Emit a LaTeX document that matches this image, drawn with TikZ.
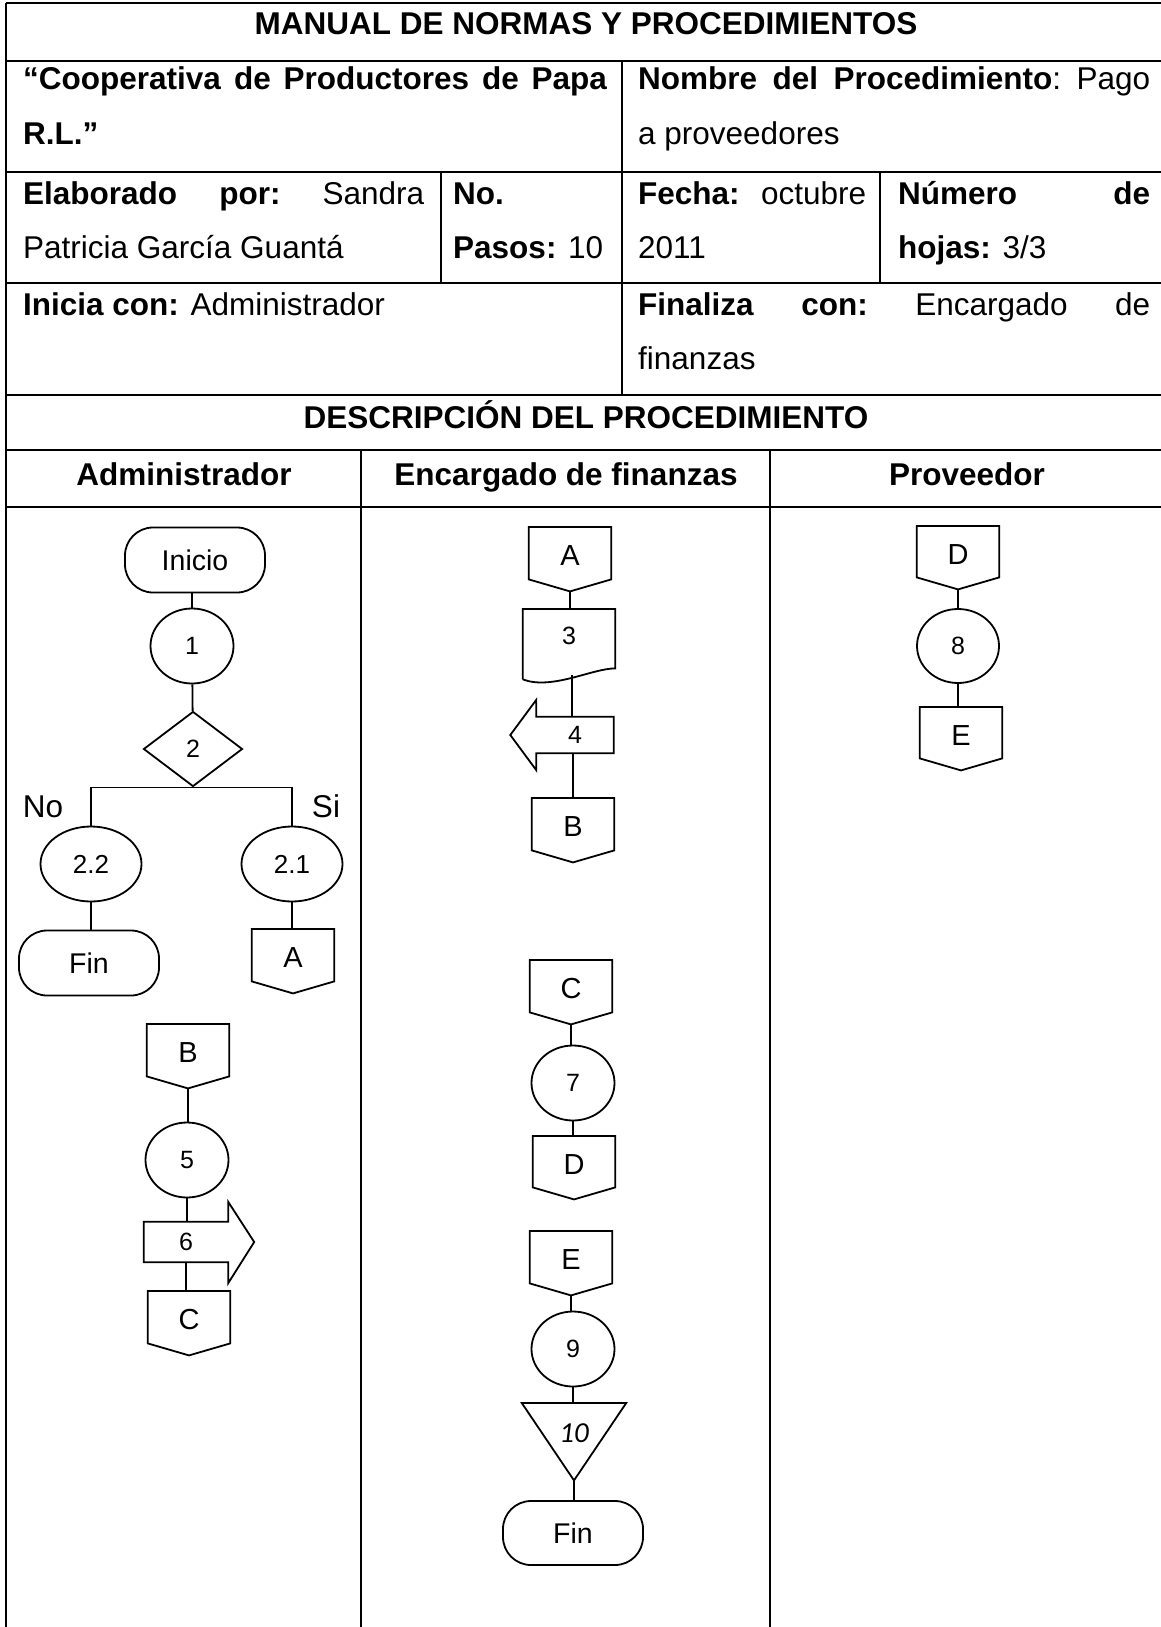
\documentclass[tikz,border=0pt]{standalone}
\usepackage{fontspec}
\setmainfont{Liberation Sans}
\newfontfamily\calibfont{Carlito}
\usetikzlibrary{shapes.geometric,calc}
\tikzset{
  tbl/.style={line width=2pt},
  tblthin/.style={line width=1.6pt},
  cellt/.style={inner sep=0pt, anchor=base west, font=\fontsize{31.5}{38}\selectfont},
  cellj/.style={cellt, text width=#1},
  hdr/.style={inner sep=0pt, anchor=base, font=\fontsize{31.5}{38}\selectfont\bfseries},
  shp/.style={draw, line width=1.8pt},
  conn/.style={line width=1.8pt},
  term/.style={shp, rounded corners=28pt, minimum width=140pt, minimum height=65pt, inner sep=0pt, font=\fontsize{28.5}{32}\selectfont},
  proc/.style={shp, ellipse, minimum width=83pt, minimum height=75pt, inner sep=0pt, font=\fontsize{25}{30}\selectfont},
  wproc/.style={proc, minimum width=101pt, font=\fontsize{26}{30}\selectfont},
  decis/.style={shp, diamond, minimum width=99pt, minimum height=75pt, inner sep=0pt, font=\fontsize{25}{30}\selectfont},
  offp/.style={inner sep=0pt, anchor=north, minimum width=82pt, text height=38pt, text depth=26pt, font=\fontsize{29}{34}\selectfont},
  arrbox/.style={inner sep=0pt, font=\fontsize{25}{30}\selectfont},
  docbox/.style={inner sep=0pt, anchor=north, minimum width=92pt, text height=35pt, text depth=31pt, font=\fontsize{25}{30}\selectfont},
  tribox/.style={inner sep=0pt, anchor=north, minimum width=104pt, text height=39pt, text depth=38pt, font=\calibfont\itshape\fontsize{29}{34}\selectfont},
  lbl/.style={inner sep=0pt, anchor=base, font=\fontsize{31.5}{38}\selectfont}
}
\newcommand{\opout}[1]{\draw[shp] (#1.north west) -- (#1.north east) -- ([yshift=12pt]#1.south east) -- (#1.south) -- ([yshift=12pt]#1.south west) -- cycle;}
\newcommand{\rarrowout}[1]{\draw[shp] (#1.north west) -- (#1.north east) -- ([yshift=20pt]#1.north east) -- ([xshift=26pt]#1.east) -- ([yshift=-21pt]#1.south east) -- (#1.south east) -- (#1.south west) -- cycle;}
\newcommand{\larrowout}[1]{\draw[shp] (#1.north east) -- (#1.north west) -- ([yshift=17pt]#1.north west) -- ([xshift=-26pt]#1.west) -- ([yshift=-17pt]#1.south west) -- (#1.south west) -- (#1.south east) -- cycle;}
\newcommand{\docout}[1]{\draw[shp] ([yshift=-4pt]#1.south west) -- (#1.north west) -- (#1.north east) -- ([yshift=7pt]#1.south east) .. controls ([xshift=-23pt,yshift=7pt]#1.south east) and ([xshift=29pt,yshift=-15pt]#1.south west) .. ([yshift=-4pt]#1.south west);}
\newcommand{\triout}[1]{\draw[shp] (#1.north west) -- (#1.north east) -- (#1.south) -- cycle;}
\newcommand{\vlink}[2]{\draw[conn] (#1.south) -- (#1.south |- #2.north);}
\begin{document}
\begin{tikzpicture}[x=1pt,y=-1pt]
\useasboundingbox (0,0) rectangle (1161,1627);
% ---------- table grid ----------
\draw[tbl] (6,3) -- (1161,3);
\draw[tbl] (6,61) -- (1161,61);
\draw[tbl] (6,172) -- (1161,172);
\draw[tbl] (6,283) -- (1161,283);
\draw[tbl] (6,395) -- (1161,395);
\draw[tbl] (6,450) -- (1161,450);
\draw[tbl] (6,507) -- (1161,507);
\draw[tbl] (6,3) -- (6,1627);
\draw[tbl] (622,61) -- (622,395);
\draw[tbl] (441,172) -- (441,283);
\draw[tbl] (880,172) -- (880,283);
\draw[tblthin] (361,450) -- (361,1627);
\draw[tblthin] (770,450) -- (770,1627);
% ---------- table texts ----------
\node[hdr] (title) at (586,35) {MANUAL DE NORMAS Y PROCEDIMIENTOS};
\node[cellj=584pt] (coop1) at (23,90) {\textbf{“Cooperativa}\hfill\textbf{de}\hfill\textbf{Productores}\hfill\textbf{de}\hfill\textbf{Papa}};
\node[cellt] (coop2) at (23,145) {\textbf{R.L.”}};
\node[cellj=512pt] (nom1) at (638,90) {\textbf{Nombre}\hfill\textbf{del}\hfill\textbf{Procedimiento}:\hfill Pago};
\node[cellt] (nom2) at (638,145) {a proveedores};
\node[cellj=401pt] (ela1) at (23,204) {\textbf{Elaborado}\hfill\textbf{por:}\hfill Sandra};
\node[cellt] (ela2) at (23,258) {Patricia García Guantá};
\node[cellt] (pas1) at (453,204) {\textbf{No.}};
\node[cellt] (pas2) at (453,258) {\textbf{Pasos:} 10};
\node[cellj=228pt] (fec1) at (638,204) {\textbf{Fecha:}\hfill octubre};
\node[cellt] (fec2) at (638,258) {2011};
\node[cellj=252pt] (hoj1) at (898,204) {\textbf{Número}\hfill\textbf{de}};
\node[cellt] (hoj2) at (898,258) {\textbf{hojas:} 3/3};
\node[cellt] (ini1) at (23,315) {\textbf{Inicia con:} Administrador};
\node[cellj=512pt] (fin1t) at (638,315) {\textbf{Finaliza}\hfill\textbf{con:}\hfill Encargado\hfill de};
\node[cellt] (fin2t) at (638,369) {finanzas};
\node[hdr] (desc) at (586,428) {DESCRIPCIÓN DEL PROCEDIMIENTO};
\node[hdr] (hadm) at (184,485) {Administrador};
\node[hdr] (henc) at (566,485) {Encargado de finanzas};
\node[hdr] (hpro) at (967,485) {Proveedor};
% ---------- Administrador ----------
\node[term] (inicio) at (195,560) {Inicio};
\node[proc] (c1) at (192,646) {1};
\node[decis] (d2) at (193,749) {2};
\node[wproc] (c22) at (91,864) {2.2};
\node[wproc] (c21) at (292,864) {2.1};
\node[term] (fin1) at (89,963) {Fin};
\node[offp] (A1) at (293,929) {A};
\node[lbl] (no) at (43,817) {No};
\node[lbl] (si) at (326,817) {Si};
\node[offp] (B1) at (188,1024) {B};
\node[proc] (c5) at (187,1160) {5};
\node[arrbox, minimum width=84pt, minimum height=40pt] (r6) at (186,1242) {6};
\node[offp, minimum width=82pt] (C1) at (189,1291) {C};
\opout{A1}
\opout{B1}
\opout{C1}
\rarrowout{r6}
\draw[conn] (c1.north |- inicio.south) -- (c1.north);
\draw[conn] (c1) -- (d2);
\draw[conn] (c22.north) |- (d2.south) -| (c21.north);
\vlink{c22}{fin1}
\vlink{c21}{A1}
\vlink{B1}{c5}
\vlink{c5}{r6}
\vlink{r6}{C1}
% ---------- Encargado de finanzas ----------
\node[offp] (A2) at (570,527) {A};
\node[docbox] (n3) at (569,609) {3};
\node[arrbox, minimum width=77pt, minimum height=36pt] (r4) at (575,735) {4};
\node[offp] (B2) at (573,798) {B};
\node[offp] (C2) at (571,960) {C};
\node[proc] (c7) at (573,1083) {7};
\node[offp, text depth=25pt] (D2) at (574,1136) {D};
\node[offp] (E2) at (571,1231) {E};
\node[proc] (c9) at (573,1349) {9};
\node[tribox] (n10) at (574,1403) {10};
\node[term, minimum height=64pt] (fin2) at (573,1533) {Fin};
\opout{A2}
\docout{n3}
\larrowout{r4}
\opout{B2}
\opout{C2}
\opout{D2}
\opout{E2}
\triout{n10}
\draw[conn] (A2.south) -- (A2.south |- n3.north);
\draw[conn] ([xshift=3pt]n3.south) -- ([xshift=3pt]n3.south |- r4.north);
\draw[conn] (B2.north |- r4.south) -- (B2.north);
\vlink{C2}{c7}
\vlink{c7}{D2}
\vlink{E2}{c9}
\vlink{c9}{n10}
\vlink{n10}{fin2}
% ---------- Proveedor ----------
\node[offp, text depth=25pt] (D3) at (958,526) {D};
\node[proc, minimum width=82pt, minimum height=74pt] (c8) at (958,646) {8};
\node[offp, text depth=25pt] (E3) at (961,707) {E};
\opout{D3}
\opout{E3}
\vlink{D3}{c8}
\vlink{c8}{E3}
\end{tikzpicture}
\end{document}
